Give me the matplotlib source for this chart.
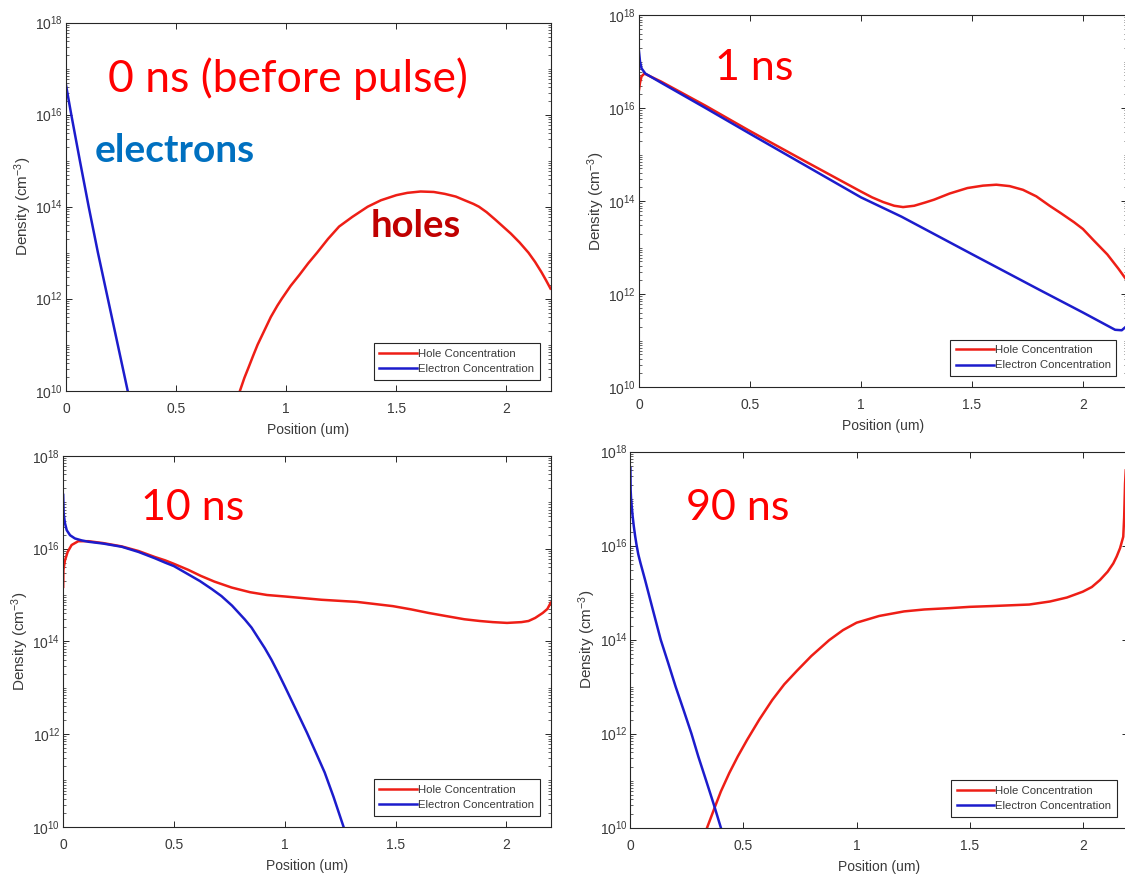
import matplotlib
matplotlib.use("Agg")
import matplotlib.pyplot as plt
from matplotlib.ticker import FixedLocator, NullFormatter

plt.rcParams['font.family'] = ['Liberation Sans', 'DejaVu Sans']
plt.rcParams['mathtext.fontset'] = 'custom'
plt.rcParams['mathtext.rm'] = 'Liberation Sans'
plt.rcParams['mathtext.it'] = 'Liberation Sans:italic'
plt.rcParams['mathtext.default'] = 'regular'

# ---------------- data ----------------
x_ticks = [0, 0.5, 1, 1.5, 2]
x_tick_labels = ["0", "0.5", "1", "1.5", "2"]
y_ticks = [1e10, 1e12, 1e14, 1e16, 1e18]

series_names = ["Hole Concentration", "Electron Concentration"]
panel_titles = ["0 ns (before pulse)", "1 ns", "10 ns", "90 ns"]

# 0 ns (before pulse)
x_h0 = [0.79, 0.81, 0.83, 0.85, 0.87, 0.90, 0.93, 0.96, 0.98, 1.02, 1.06, 1.10,
        1.14, 1.19, 1.24, 1.30, 1.37, 1.43, 1.50, 1.55, 1.61, 1.67, 1.72, 1.77,
        1.81, 1.85, 1.875, 1.91, 1.95, 1.99, 2.02, 2.06, 2.10, 2.13, 2.16, 2.18, 2.20]
p_h0 = [1.0e10, 1.9e10, 3.3e10, 5.8e10, 1.0e11, 2.0e11, 4.0e11, 7.1e11, 1.0e12,
        1.9e12, 3.3e12, 5.9e12, 1.0e13, 2.0e13, 3.7e13, 6.0e13, 1.0e14, 1.38e14,
        1.78e14, 2.0e14, 2.14e14, 2.09e14, 1.9e14, 1.66e14, 1.38e14, 1.15e14,
        1.0e14, 7.6e13, 5.2e13, 3.5e13, 2.6e13, 1.66e13, 1.0e13, 6.3e12, 3.7e12,
        2.5e12, 1.66e12]
x_e0 = [0, 0.024, 0.063, 0.103, 0.145, 0.19, 0.235, 0.28]
n_e0 = [4.4e16, 1.0e16, 1.0e15, 1.0e14, 1.0e13, 1.0e12, 1.0e11, 1.0e10]

# 1 ns
x_h1 = [0, 0.005, 0.012, 0.025, 0.1, 0.3, 0.5, 0.75, 0.9, 1.0, 1.05, 1.1, 1.15,
        1.19, 1.24, 1.29, 1.33, 1.4, 1.48, 1.55, 1.61, 1.67, 1.73, 1.79, 1.85,
        1.9, 1.96, 2.0, 2.05, 2.11, 2.16, 2.2]
p_h1 = [2.4e16, 3.5e16, 4.8e16, 5.5e16, 3.7e16, 1.12e16, 3.2e15, 7.1e14, 2.9e14,
        1.6e14, 1.2e14, 9.5e13, 7.9e13, 7.4e13, 7.9e13, 9.3e13, 1.07e14, 1.45e14,
        1.9e14, 2.14e14, 2.24e14, 2.09e14, 1.74e14, 1.26e14, 7.9e13, 5.5e13,
        3.5e13, 2.5e13, 1.4e13, 7.1e12, 3.5e12, 1.9e12]
x_e1 = [0, 0.005, 0.012, 0.029, 0.1, 0.3, 0.5, 0.75, 1.0, 1.183, 1.5, 1.8,
        2.0, 2.145, 2.175, 2.2]
n_e1 = [1.7e17, 1.0e17, 7.1e16, 5.5e16, 3.5e16, 1.0e16, 2.8e15, 5.8e14, 1.2e14,
        4.6e13, 7.2e12, 1.26e12, 4.0e11, 1.7e11, 1.66e11, 2.1e11]

# 10 ns
x_h10 = [0, 0.001, 0.008, 0.02, 0.038, 0.068, 0.114, 0.18, 0.264, 0.34, 0.414,
         0.46, 0.5, 0.564, 0.62, 0.682, 0.76, 0.843, 0.92, 1.0, 1.165, 1.326,
         1.488, 1.57, 1.649, 1.73, 1.81, 1.88, 1.939, 2.003, 2.068, 2.1, 2.13,
         2.164, 2.185, 2.2]
p_h10 = [1.5e15, 3.5e15, 5.6e15, 8.5e15, 1.2e16, 1.45e16, 1.45e16, 1.32e16,
         1.12e16, 8.9e15, 6.6e15, 5.6e15, 4.7e15, 3.5e15, 2.6e15, 1.95e15,
         1.45e15, 1.15e15, 1.0e15, 9.3e14, 7.9e14, 7.1e14, 5.75e14, 4.9e14,
         4.1e14, 3.5e14, 3.0e14, 2.75e14, 2.6e14, 2.5e14, 2.6e14, 2.75e14,
         3.2e14, 4.1e14, 5.0e14, 6.8e14]
x_e10 = [0, 0.002, 0.008, 0.016, 0.031, 0.053, 0.083, 0.114, 0.18, 0.264, 0.34,
         0.414, 0.46, 0.5, 0.564, 0.617, 0.67, 0.714, 0.762, 0.82, 0.85, 0.875,
         0.91, 0.94, 0.97, 1.0, 1.05, 1.1, 1.14, 1.18, 1.22, 1.265]
n_e10 = [1.45e17, 5.75e16, 3.55e16, 2.5e16, 1.95e16, 1.66e16, 1.51e16, 1.41e16,
         1.29e16, 1.1e16, 8.5e15, 6.2e15, 5.0e15, 4.2e15, 2.8e15, 2.0e15, 1.35e15,
         9.5e14, 5.9e14, 2.95e14, 1.98e14, 1.29e14, 7.1e13, 4.0e13, 2.1e13,
         1.07e13, 3.4e12, 1.07e12, 4.0e11, 1.48e11, 4.4e10, 1.0e10]

# 90 ns
x_h90 = [0.339, 0.355, 0.374, 0.40, 0.437, 0.475, 0.516, 0.57, 0.627, 0.68,
         0.737, 0.8, 0.879, 0.94, 1.0, 1.1, 1.21, 1.3, 1.413, 1.5, 1.6, 1.763,
         1.855, 1.93, 2.0, 2.04, 2.076, 2.11, 2.135, 2.15, 2.165, 2.179, 2.183,
         2.187, 2.19]
p_h90 = [1.0e10, 1.6e10, 2.8e10, 5.9e10, 1.45e11, 3.3e11, 7.4e11, 2.0e12, 5.2e12,
         1.12e13, 2.2e13, 4.5e13, 9.8e13, 1.6e14, 2.3e14, 3.2e14, 4.0e14, 4.4e14,
         4.7e14, 5.0e14, 5.2e14, 5.6e14, 6.5e14, 7.9e14, 1.05e15, 1.32e15,
         1.86e15, 2.8e15, 4.2e15, 5.9e15, 8.9e15, 1.55e16, 4.0e16, 2.1e17, 4.0e17]
x_e90 = [0, 0.001, 0.003, 0.006, 0.01, 0.015, 0.021, 0.027, 0.035, 0.045, 0.055,
         0.065, 0.1, 0.134, 0.167, 0.2, 0.235, 0.27, 0.3, 0.335, 0.368, 0.40]
n_e90 = [4.5e17, 1.55e17, 1.0e17, 6.8e16, 4.2e16, 2.6e16, 1.6e16, 1.05e16,
         6.5e15, 4.2e15, 2.8e15, 1.86e15, 4.2e14, 1.0e14, 3.2e13, 1.0e13, 3.2e12,
         1.0e12, 3.3e11, 1.0e11, 3.2e10, 1.0e10]

# ---------------- figure ----------------
W, H = 1125, 877
fig = plt.figure(figsize=(W / 100, H / 100), dpi=100)

HOLE_C = '#EE1E16'
ELEC_C = '#1C1CCC'
AX_C = '#262626'
LBL_C = '#3a3a3a'


def px_box(left, top, right, bottom):
    return [left / W, 1 - bottom / H, (right - left) / W, (bottom - top) / H]


minor_y = [k * 10.0 ** d for d in range(10, 18) for k in range(1, 10)
           if not (k == 1 and d % 2 == 0)]


def panel(box, xh, ph, xe, ne):
    ax = fig.add_axes(px_box(*box))
    ax.plot(xh, ph, color=HOLE_C, lw=1.8, label=series_names[0])
    ax.plot(xe, ne, color=ELEC_C, lw=1.8, label=series_names[1])
    ax.set_yscale('log')
    ax.set_xlim(0, 2.2)
    ax.set_ylim(1e10, 1e18)
    ax.set_xticks(x_ticks, x_tick_labels)
    ax.set_yticks(y_ticks)
    ax.yaxis.set_minor_locator(FixedLocator(minor_y))
    ax.yaxis.set_minor_formatter(NullFormatter())
    ax.tick_params(which='both', direction='in', top=True, right=True,
                   color=AX_C, labelcolor=LBL_C, labelsize=10)
    ax.tick_params(which='major', length=4, width=0.7)
    ax.tick_params(which='minor', length=2, width=0.5)
    ax.tick_params(axis='x', pad=8)
    ax.tick_params(axis='y', pad=2)
    for s in ax.spines.values():
        s.set_color(AX_C)
        s.set_linewidth(0.8)
    wpx = box[2] - box[0]
    hpx = box[3] - box[1]
    ax.set_xlabel("Position (um)", fontsize=10, color=LBL_C)
    ax.set_ylabel("Density (cm$^{-3}$)", fontsize=11, color=LBL_C)
    ax.xaxis.set_label_coords(0.5, -39 / hpx)
    ax.yaxis.set_label_coords(-43 / wpx, 0.5)
    ax.xaxis.label.set_va('center')
    ax.yaxis.label.set_va('center')
    ax.yaxis.label.set_ha('center')
    leg = ax.legend(loc='lower right', fontsize=8.2, handlelength=3.3,
                    handletextpad=0.1, borderpad=0.5, labelspacing=0.45,
                    borderaxespad=0.95, fancybox=False, framealpha=1,
                    edgecolor=AX_C)
    leg.get_frame().set_linewidth(0.8)
    for t in leg.get_texts():
        t.set_color(LBL_C)
    return ax


panel((66, 22.7, 550.5, 390.7), x_h0, p_h0, x_e0, n_e0)
panel((638.9, 15, 1127.3, 387), x_h1, p_h1, x_e1, n_e1)
panel((63.2, 456, 550.7, 826.7), x_h10, p_h10, x_e10, n_e10)
panel((630.4, 451.7, 1128, 827.7), x_h90, p_h90, x_e90, n_e90)


def label(txt, left, baseline, color, size, weight='normal'):
    fig.text(left / W, 1 - baseline / H, txt, color=color, fontsize=size,
             fontweight=weight, family=['Lato', 'DejaVu Sans'],
             ha='left', va='baseline')


label(panel_titles[0], 108, 92, '#FF0000', 32)
label("electrons", 95, 162, '#0070C0', 28, 'bold')
label("holes", 371, 237, '#C00000', 27.5, 'bold')
label(panel_titles[1], 715, 79.5, '#FF0000', 31)
label(panel_titles[2], 141, 519.5, '#FF0000', 31)
label(panel_titles[3], 686, 519.5, '#FF0000', 31)

fig.savefig("out.png", dpi=100)
